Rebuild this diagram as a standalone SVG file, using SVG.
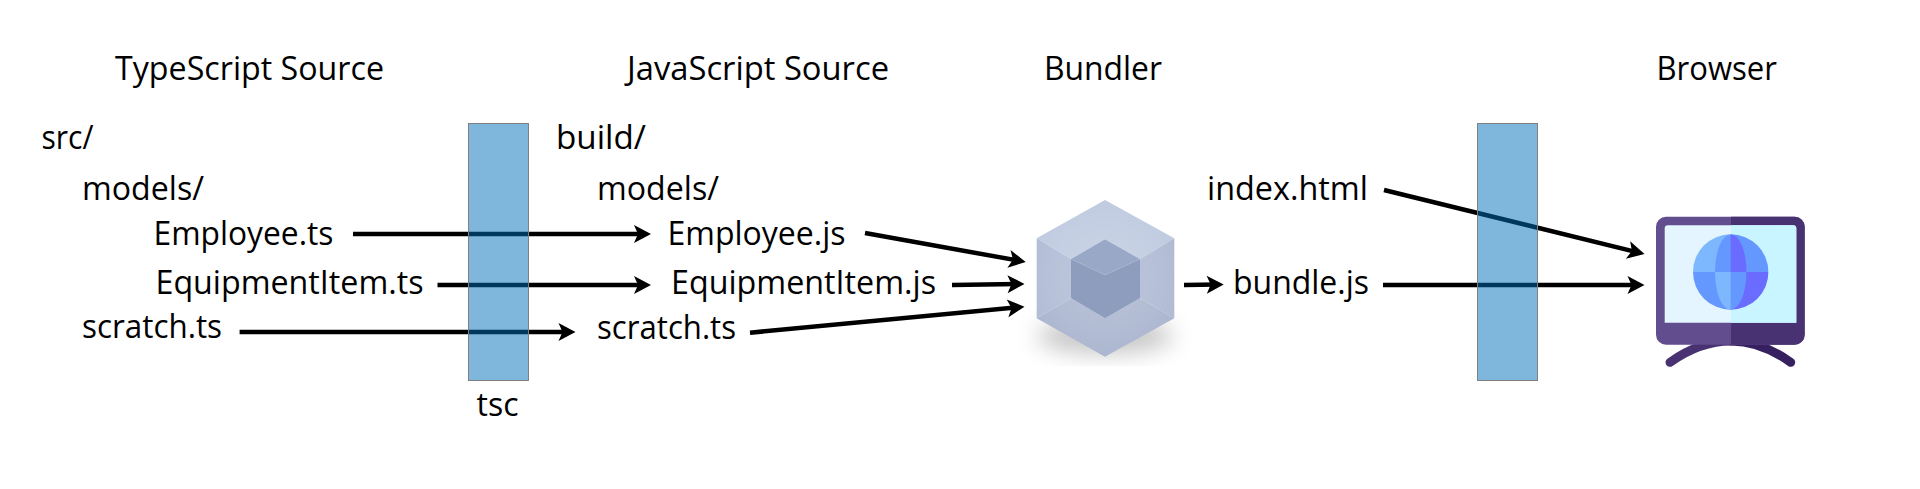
<svg xmlns="http://www.w3.org/2000/svg" width="1920" height="489" viewBox="0 0 1920 489">
<style>
text{font-family:"Open Sans","Noto Sans",sans-serif;font-size:32px;fill:#000}
.c{fill:none;stroke:#000;stroke-width:4.5;marker-end:url(#a)}
.bar{fill:#006eb9;fill-opacity:.5;stroke:#808080;stroke-width:1}
</style>
<defs>
<marker id="a" markerUnits="userSpaceOnUse" markerWidth="17" markerHeight="18" viewBox="0 0 17 18" refX="11" refY="9" orient="auto" overflow="visible"><path d="M0 0L17 9L0 18L4 9Z" fill="#000"/></marker>
<filter id="blur" x="-40%" y="-120%" width="180%" height="340%"><feGaussianBlur stdDeviation="11"/></filter>
<clipPath id="shadowClip"><rect x="1000" y="300" width="220" height="66"/></clipPath>
<radialGradient id="glow" gradientUnits="userSpaceOnUse" cx="1105" cy="278" r="85"><stop offset="0" stop-color="#fff" stop-opacity=".2"/><stop offset=".7" stop-color="#fff" stop-opacity=".08"/><stop offset="1" stop-color="#fff" stop-opacity="0"/></radialGradient>
<clipPath id="globe"><circle cx="1730.7" cy="272" r="37.7"/></clipPath>
</defs>
<g id="connectors">
<path class="c" d="M353 234H645"/>
<path class="c" d="M437.5 285H645"/>
<path class="c" d="M239.6 332H569.5"/>
<path class="c" d="M865 233L1019.8 260.9"/>
<path class="c" d="M952 285L1018.5 284"/>
<path class="c" d="M750 332.7L1018.5 307.3"/>
<path class="c" d="M1184 285L1217.7 284.5"/>
<path class="c" d="M1384 190L1638.7 252.6"/>
<path class="c" d="M1383 285H1638.5"/>
</g>
<g id="tsc-bar"><rect class="bar" x="468.5" y="123.5" width="60" height="257"/></g>
<g id="bar-2"><rect class="bar" x="1477.5" y="123.5" width="60" height="257"/></g>
<g id="label-typescript-source"><text x="115" y="79.5" textLength="269" lengthAdjust="spacingAndGlyphs">TypeScript Source</text></g>
<g id="label-javascript-source"><text x="627" y="79.5" textLength="262" lengthAdjust="spacingAndGlyphs">JavaScript Source</text></g>
<g id="label-bundler"><text x="1044" y="79.5" textLength="118" lengthAdjust="spacingAndGlyphs">Bundler</text></g>
<g id="label-browser"><text x="1656.5" y="79.5" textLength="120.5" lengthAdjust="spacingAndGlyphs">Browser</text></g>
<g id="src"><text x="41.5" y="148.5" textLength="52" lengthAdjust="spacingAndGlyphs">src/</text></g>
<g id="src-models"><text x="82" y="200" textLength="122" lengthAdjust="spacingAndGlyphs">models/</text></g>
<g id="employee-ts"><text x="153.5" y="244.5" textLength="180" lengthAdjust="spacingAndGlyphs">Employee.ts</text></g>
<g id="equipmentitem-ts"><text x="155.5" y="293.5" textLength="268" lengthAdjust="spacingAndGlyphs">EquipmentItem.ts</text></g>
<g id="scratch-ts"><text x="82" y="338" textLength="140" lengthAdjust="spacingAndGlyphs">scratch.ts</text></g>
<g id="tsc"><text x="476.5" y="416" textLength="42" lengthAdjust="spacingAndGlyphs">tsc</text></g>
<g id="build"><text x="556" y="149" textLength="90" lengthAdjust="spacingAndGlyphs">build/</text></g>
<g id="build-models"><text x="597" y="200" textLength="122" lengthAdjust="spacingAndGlyphs">models/</text></g>
<g id="employee-js"><text x="667.5" y="245" textLength="178" lengthAdjust="spacingAndGlyphs">Employee.js</text></g>
<g id="equipmentitem-js"><text x="671" y="294" textLength="265" lengthAdjust="spacingAndGlyphs">EquipmentItem.js</text></g>
<g id="scratch-ts-built"><text x="597" y="339" textLength="139" lengthAdjust="spacingAndGlyphs">scratch.ts</text></g>
<g id="index-html"><text x="1207" y="200" textLength="161" lengthAdjust="spacingAndGlyphs">index.html</text></g>
<g id="bundle-js"><text x="1233" y="294" textLength="136" lengthAdjust="spacingAndGlyphs">bundle.js</text></g>
<g id="bundler">
<g clip-path="url(#shadowClip)"><ellipse cx="1105" cy="336" rx="68" ry="18" fill="#000" fill-opacity=".22" filter="url(#blur)"/></g>
<path fill="#bfcae0" d="M1105 200L1174.3 238.3L1140 259L1105 239.3L1071 259L1036.7 238.3Z"/>
<path fill="#b0bbd5" d="M1036.7 238.3L1071 259V298.3L1036.7 318.3Z"/>
<path fill="#aeb9d3" d="M1174.3 238.3L1140 259V298.3L1174.3 318.3Z"/>
<path fill="#aab5cf" d="M1036.7 318.3L1071 298.3L1105 318.3L1140 298.3L1174.3 318.3L1105 356.7Z"/>
<path fill="url(#glow)" d="M1105 200L1174.3 238.3V318.3L1105 356.7L1036.7 318.3V238.3Z"/>
<path fill="#9aa8c8" d="M1105 239.3L1140 259L1105 275L1071 259Z"/>
<path fill="#8e9cbd" d="M1071 259L1105 275L1140 259V298.3L1105 318.3L1071 298.3Z"/>
</g>
<g id="browser">
<path d="M1670 362.3Q1700 341 1731 341" fill="none" stroke="#483272" stroke-width="9" stroke-linecap="round"/>
<path d="M1790.7 362.3Q1761 341 1731 341" fill="none" stroke="#36205f" stroke-width="9" stroke-linecap="round"/>
<rect x="1656" y="216.7" width="148.7" height="128" rx="10" fill="#624d8e"/>
<path fill="#483272" d="M1731 216.7H1794.7A10 10 0 0 1 1804.7 226.7V334.7A10 10 0 0 1 1794.7 344.7H1731Z"/>
<path fill="#e4f5ff" d="M1668 225.3H1793A3.3 3.3 0 0 1 1796.3 228.6V322.7H1664.7V228.6A3.3 3.3 0 0 1 1668 225.3Z"/>
<path fill="#c8f5ff" d="M1731 225.3H1793A3.3 3.3 0 0 1 1796.3 228.6V322.7H1731Z"/>
<g clip-path="url(#globe)">
<rect x="1693" y="234" width="38" height="38.5" fill="#7db8ff"/>
<rect x="1730.7" y="234" width="38" height="38.5" fill="#6598ff"/>
<rect x="1693" y="272" width="38" height="38" fill="#6598ff"/>
<rect x="1730.7" y="272" width="38" height="38" fill="#6a6bff"/>
<path fill="#6598ff" d="M1731 234.3H1730.7A15.7 37.7 0 0 0 1715 272V272.5H1731Z"/>
<path fill="#6a6bff" d="M1730.7 234.3A15.7 37.7 0 0 1 1746.4 272V272.5H1730.7Z"/>
<path fill="#7db8ff" d="M1731 309.7H1730.7A15.7 37.7 0 0 1 1715 272H1731Z"/>
<path fill="#6598ff" d="M1730.7 309.7A15.7 37.7 0 0 0 1746.4 272H1730.7Z"/>
</g>
</g>
</svg>
